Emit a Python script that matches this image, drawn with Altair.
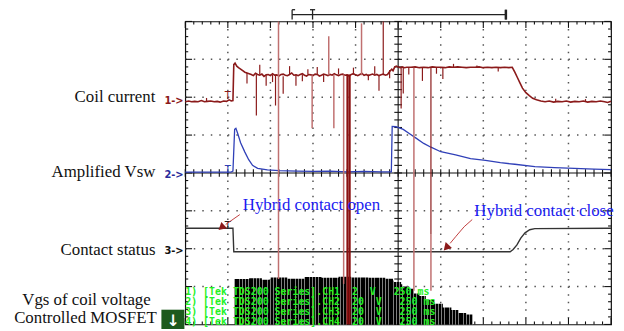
import altair as alt
import numpy as np
import pandas as pd

# ---------------- data (screen divisions: x 0..10, y -4..4) ----------------
ch1_x = [0.00, 0.08, 0.15, 0.22, 0.30, 0.38, 0.45, 0.52, 0.60, 0.68, 0.75, 0.82, 0.90, 0.97, 1.03, 1.08, 1.12,
         1.14, 1.17, 1.21, 1.25, 1.30, 1.35, 1.40, 1.45,
         1.50, 1.55, 1.60, 1.65, 1.70, 1.75, 1.80, 1.85, 1.90, 1.95, 2.00, 2.05, 2.10, 2.15, 2.20, 2.25,
         2.30, 2.35, 2.40, 2.45, 2.50, 2.55, 2.60, 2.65, 2.70, 2.75, 2.80, 2.85, 2.90, 2.95, 3.00, 3.05,
         3.10, 3.15, 3.20, 3.25, 3.30, 3.35, 3.40, 3.45, 3.50, 3.55, 3.60, 3.65, 3.70, 3.75, 3.80, 3.85,
         3.90, 3.95, 4.00, 4.05, 4.10, 4.15, 4.20, 4.25, 4.30, 4.35, 4.40, 4.45, 4.50, 4.55, 4.60, 4.65,
         4.70, 4.75, 4.80, 4.85, 4.88, 4.92, 4.96,
         5.00, 5.05, 5.10, 5.15, 5.20, 5.30, 5.40, 5.50, 5.60, 5.70, 5.80, 5.90, 6.00, 6.10, 6.20, 6.30, 6.40,
         6.50, 6.60, 6.70, 6.80, 6.90, 7.00, 7.10, 7.20, 7.30, 7.40, 7.50, 7.60, 7.68, 7.74, 7.80, 7.86, 7.92,
         8.00, 8.08, 8.16, 8.25, 8.35, 8.45, 8.55, 8.65, 8.75, 8.85, 8.95, 9.05, 9.15, 9.25, 9.35, 9.45, 9.55,
         9.65, 9.75, 9.85, 9.92, 10.0]
ch1_y = [1.88, 1.90, 1.88, 1.89, 1.88, 1.91, 1.88, 1.89, 1.90, 1.88, 1.89, 1.87, 1.90, 1.89, 1.93, 1.90, 1.91,
         2.86, 2.90, 2.82, 2.78, 2.74, 2.70, 2.66, 2.64,
         2.62, 2.60, 2.57, 2.63, 2.60, 2.58, 2.61, 2.55, 2.59, 2.60, 2.57, 2.62, 2.58, 2.59, 2.56, 2.60,
         2.61, 2.58, 2.57, 2.60, 2.64, 2.58, 2.59, 2.57, 2.60, 2.62, 2.58, 2.56, 2.60, 2.59, 2.57, 2.61,
         2.60, 2.56, 2.58, 2.61, 2.59, 2.57, 2.60, 2.58, 2.62, 2.59, 2.57, 2.60, 2.61, 2.58, 2.59, 2.56,
         2.60, 2.62, 2.59, 2.57, 2.60, 2.63, 2.58, 2.60, 2.57, 2.59, 2.61, 2.58, 2.60, 2.57, 2.59, 2.61,
         2.58, 2.60, 2.68, 2.74, 2.70, 2.80, 2.82,
         2.80, 2.78, 2.80, 2.78, 2.79, 2.79, 2.80, 2.78, 2.79, 2.78, 2.80, 2.79, 2.79, 2.78, 2.80, 2.79, 2.80,
         2.79, 2.78, 2.79, 2.79, 2.80, 2.78, 2.79, 2.78, 2.79, 2.78, 2.79, 2.78, 2.79, 2.66, 2.52, 2.38, 2.24,
         2.12, 2.04, 1.97, 1.93, 1.90, 1.88, 1.90, 1.87, 1.89, 1.88, 1.90, 1.87, 1.89, 1.88, 1.90, 1.87, 1.89,
         1.88, 1.90, 1.88, 1.86, 1.89]

spike_x = [1.67, 1.90, 2.12, 2.19, 2.30, 2.60, 2.98, 3.37, 3.49, 3.72, 3.81, 3.86, 4.14, 4.55, 4.65,
           5.07, 5.12, 5.37, 5.57, 5.77, 5.77, 6.05,
           0.50, 1.45, 1.75, 2.05, 2.45, 2.75, 2.88, 3.10, 3.25, 3.60, 3.95, 4.30, 4.45, 4.80,
           5.25, 5.90, 6.30, 6.85, 7.35, 8.70, 9.40]
spike_top = [2.60, 2.58, 2.60, 4.00, 2.55, 2.60, 2.58, 3.61, 2.60, 2.60, 2.60, 2.60, 3.95, 2.57, 4.00,
             2.78, 2.78, 2.78, 2.78, 2.78, -1.62, 2.78,
             1.98, 2.64, 2.86, 2.60, 2.82, 2.60, 2.74, 2.80, 2.60, 2.76, 2.78, 2.60, 2.82, 2.72,
             2.79, 2.79, 2.88, 2.84, 2.79, 1.96, 1.95]
spike_bottom = [1.52, 2.30, 1.78, -2.80, 2.09, 2.30, 1.18, 2.58, 1.18, -2.93, -4.00, -4.00, 2.58, 2.17, 2.58,
                1.70, 2.10, -3.11, 2.43, -1.62, -3.11, 2.48,
                1.88, 2.36, 2.60, 2.40, 2.60, 2.42, 2.60, 2.60, 2.40, 2.60, 2.60, 2.45, 2.60, 2.50,
                2.60, 2.62, 2.79, 2.79, 2.68, 1.88, 1.88]
spike_kind = ["dark", "dark", "dark", "light", "dark", "dark", "light", "light", "light", "light", "thick",
              "thick", "light", "dark", "dark", "dark", "dark", "light", "dark", "dark", "light", "dark",
              "dark", "dark", "dark", "dark", "dark", "dark", "dark", "dark", "dark", "dark", "dark", "dark",
              "dark", "dark", "dark", "dark", "dark", "dark", "dark", "dark", "dark"]

ch2_x = [0.00, 0.50, 1.00, 1.07, 1.12, 1.16, 1.19, 1.23, 1.30, 1.40, 1.49, 1.58, 1.70, 1.93, 2.20, 2.63,
         3.00, 3.40, 3.80, 4.20, 4.60, 4.84, 4.86, 4.95, 5.12, 5.26, 5.42, 5.60, 5.77, 6.00, 6.35, 6.70,
         7.05, 7.40, 7.74, 8.21, 8.67, 9.14, 9.60, 10.0]
ch2_y = [0.02, 0.02, 0.02, 0.02, 0.05, 1.15, 1.18, 1.05, 0.80, 0.55, 0.35, 0.20, 0.12, 0.08, 0.06, 0.05,
         0.04, 0.05, 0.03, 0.04, 0.03, 0.03, 1.23, 1.22, 1.15, 1.04, 0.92, 0.78, 0.68, 0.56, 0.48, 0.38,
         0.33, 0.27, 0.23, 0.17, 0.14, 0.12, 0.10, 0.09]

ch3_x = [0.00, 1.12, 1.14, 4.00, 7.63, 7.70, 7.79, 7.88, 7.98, 8.09, 8.21, 10.0]
ch3_y = [-1.46, -1.46, -2.08, -2.08, -2.08, -2.02, -1.90, -1.72, -1.58, -1.50, -1.47, -1.46]

ch4_x = [1.16, 1.50, 1.80, 2.00, 2.40, 2.80, 3.20, 3.60, 3.90, 4.30, 4.70, 4.88, 4.90, 5.07, 5.10, 5.26,
         5.37, 5.50, 5.65, 5.85, 6.05, 6.25, 6.42, 6.60, 6.75]
ch4_top = [-2.80, -2.78, -2.82, -2.76, -2.79, -2.75, -2.77, -2.74, -2.76, -2.77, -2.79, -2.84, -2.88, -2.94,
           -3.00, -3.06, -3.18, -3.25, -3.35, -3.45, -3.55, -3.62, -3.70, -3.74, -3.78]

scope_lines = ["1) [Tek TDS200 Series].CH1  2  V   250 ms",
               "2) [Tek TDS200 Series].CH2  20  V   250 ms",
               "3) [Tek TDS200 Series].CH3  20  V   250 ms",
               "4) [Tek TDS200 Series].CH4  20  V   250 ms"]

side_labels = ["Coil current", "Amplified Vsw", "Contact status", "Vgs of coil voltage", "Controlled MOSFET"]
channel_marks = ["1->", "2->", "3->"]
notes = ["Hybrid contact open", "Hybrid contact close"]

# ---------------- helpers ----------------
XS = alt.Scale(domain=[0, 10], nice=False, zero=False)
YS = alt.Scale(domain=[-4, 4], nice=False, zero=False)


def X(f="x"):
    return alt.X(f"{f}:Q", scale=XS, axis=None)


def Y(f="y"):
    return alt.Y(f"{f}:Q", scale=YS, axis=None)


NB = "\u00a0"

# graticule (style)
vx = [v for v in range(1, 10) if v != 5]
hy = [v for v in range(-3, 4) if v != 0]
grid_v = pd.DataFrame({"x": vx, "y": [4] * len(vx), "y2": [-4] * len(vx)})
grid_h = pd.DataFrame({"y": hy, "x": [0] * len(hy), "x2": [10] * len(hy)})
center = pd.DataFrame({"x": [5, 0], "x2": [5, 10], "y": [4, 0], "y2": [-4, 0]})

tk = []
for v in np.round(np.arange(0, 10.001, 0.2), 3):
    major = abs(v - round(v)) < 1e-6
    L = 0.17 if major else 0.08
    tk += [(v, v, 4, 4 - L), (v, v, -4, -4 + L), (v, v, -0.1, 0.1)]
for v in np.round(np.arange(-4, 4.001, 0.2), 3):
    major = abs(v - round(v)) < 1e-6
    L = 0.16 if major else 0.07
    tk += [(0, L, v, v), (10, 10 - L, v, v), (4.91, 5.09, v, v)]
ticks = pd.DataFrame(tk, columns=["x", "x2", "y", "y2"])

grid_layer = [
    alt.Chart(grid_v).mark_rule(color="#555", strokeWidth=1.5, strokeDash=[1.5, 6.15]).encode(
        x=X(), y=Y(), y2="y2:Q"),
    alt.Chart(grid_h).mark_rule(color="#555", strokeWidth=1.5, strokeDash=[1.5, 7.1]).encode(
        x=X(), x2="x2:Q", y=Y()),
    alt.Chart(center).mark_rule(color="#111", strokeWidth=1.1).encode(x=X(), x2="x2:Q", y=Y(), y2="y2:Q"),
    alt.Chart(ticks).mark_rule(color="#111", strokeWidth=1.1).encode(x=X(), x2="x2:Q", y=Y(), y2="y2:Q"),
]

# ch4 PWM area with striped fill
stops = []
N = 85
for i in range(N):
    a, b, c = i / N, (i + 0.68) / N, (i + 1) / N
    stops += [{"offset": a, "color": "#000"}, {"offset": b, "color": "#000"},
              {"offset": b, "color": "#7f7f7f"}, {"offset": c, "color": "#7f7f7f"}]
stripes = {"gradient": "linear", "x1": 0, "x2": 1, "y1": 0, "y2": 0, "stops": stops}
ch4 = pd.DataFrame({"x": ch4_x, "y": ch4_top, "y2": [-4] * len(ch4_x)})
ch4_layer = alt.Chart(ch4).mark_area(color=stripes, interpolate="step-after").encode(
    x=X(), y=Y(), y2="y2:Q")


def trace(xs, ys, color, w):
    df = pd.DataFrame({"x": xs, "y": ys, "i": range(len(xs))})
    return alt.Chart(df).mark_line(color=color, strokeWidth=w).encode(
        x=X(), y=Y(), order=alt.Order("i:Q"))


ch3_layer = trace(ch3_x, ch3_y, "#333333", 1.4)
ch2_layer = trace(ch2_x, ch2_y, "#3040b8", 1.3)
ch1_layer = trace(ch1_x, ch1_y, "#8b1a1a", 1.6)

spikes = pd.DataFrame({"x": spike_x, "y": spike_top, "y2": spike_bottom, "k": spike_kind})
spike_layers = [
    alt.Chart(spikes[spikes.k == "light"]).mark_rule(color="#c07070", strokeWidth=1.5).encode(
        x=X(), y=Y(), y2="y2:Q"),
    alt.Chart(spikes[spikes.k == "dark"]).mark_rule(color="#8b1a1a", strokeWidth=1.2).encode(
        x=X(), y=Y(), y2="y2:Q"),
    alt.Chart(spikes[spikes.k == "thick"]).mark_rule(color="#8b1010", strokeWidth=2.2).encode(
        x=X(), y=Y(), y2="y2:Q"),
]

# green scope legend text
green = pd.DataFrame({"x": [0.0] * 4, "y": [-3.15, -3.41, -3.67, -3.93],
                      "t": [s.replace("  ", NB + NB) for s in scope_lines]})
green_layer = alt.Chart(green).mark_text(
    align="left", baseline="middle", font="DejaVu Sans Mono", fontWeight="bold", fontSize=10,
    color="#22f022").encode(x=X(), y=Y(), text="t:N")

# top bracket & trigger markers (style)
br = pd.DataFrame({"x": [2.51, 2.51, 2.51, 7.53, 2.99, 2.93],
                   "x2": [7.53, 2.51, 2.58, 7.53, 2.99, 3.05],
                   "y": [4.18, 4.05, 4.31, 4.05, 4.05, 4.31],
                   "y2": [4.18, 4.31, 4.31, 4.31, 4.31, 4.31]})
br_layer = alt.Chart(br).mark_rule(color="#222", strokeWidth=1.3).encode(
    x=X(), x2="x2:Q", y=Y(), y2="y2:Q")
br_end = alt.Chart(pd.DataFrame({"x": [7.53], "y": [4.05], "y2": [4.31]})).mark_rule(
    color="#222", strokeWidth=2.5).encode(x=X(), y=Y(), y2="y2:Q")

trig = pd.DataFrame({"x": [1.0, 1.0, 1.0], "y": [2.02, 0.07, -1.40], "c": ["#8b1a1a", "#3040b8", "#222"]})
trig_layer = alt.Chart(trig).mark_text(text="T", fontSize=10, font="DejaVu Sans", baseline="middle").encode(
    x=X(), y=Y(), color=alt.Color("c:N", scale=None))

# left labels
lab = pd.DataFrame({"t": side_labels, "x": [-0.70, -0.70, -0.70, -0.81, -0.67],
                    "y": [2.01, 0.03, -2.04, -3.35, -3.84]})
lab_layer = alt.Chart(lab).mark_text(align="right", baseline="middle", font="Liberation Serif",
                                     fontSize=17, color="#111").encode(x=X(), y=Y(), text="t:N")

cm = pd.DataFrame({"t": channel_marks, "x": [-0.49] * 3, "y": [1.89, -0.06, -2.07],
                   "c": ["#8b1a1a", "#2a2a9a", "#111"]})
cm_layer = alt.Chart(cm).mark_text(align="left", baseline="middle", font="DejaVu Sans", fontWeight="bold",
                                   fontSize=10).encode(x=X(), y=Y(), text="t:N",
                                                       color=alt.Color("c:N", scale=None))

# green button
box = pd.DataFrame({"x": [-0.56], "x2": [-0.02], "y": [-3.61], "y2": [-4.2]})
box_layer = alt.Chart(box).mark_rect(color="#1d5a1d").encode(x=X(), x2="x2:Q", y=Y(), y2="y2:Q")
arrow_glyph = alt.Chart(pd.DataFrame({"x": [-0.29], "y": [-3.9]})).mark_text(
    text="\u2193", color="white", fontSize=16, fontWeight="bold", font="DejaVu Sans",
    baseline="middle").encode(x=X(), y=Y())

# blue notes
nt = pd.DataFrame({"t": notes, "x": [1.35, 6.79], "y": [-0.86, -1.01]})
nt_layer = alt.Chart(nt).mark_text(align="left", baseline="middle", font="Liberation Serif",
                                   fontSize=17, color="#1a1af0").encode(x=X(), y=Y(), text="t:N")

# arrows
a1 = pd.DataFrame({"x": [1.28, 0.95], "y": [-1.10, -1.36], "i": [0, 1]})
a2 = pd.DataFrame({"x": [6.74, 6.55, 6.36, 6.22], "y": [-1.23, -1.42, -1.67, -1.86], "i": [0, 1, 2, 3]})
arrow_lines = [
    alt.Chart(a1).mark_line(color="#c04040", strokeWidth=1).encode(x=X(), y=Y(), order="i:Q"),
    alt.Chart(a2).mark_line(color="#c04040", strokeWidth=1).encode(x=X(), y=Y(), order="i:Q"),
]
heads = [
    alt.Chart(pd.DataFrame({"x": [0.87], "y": [-1.42]})).mark_point(
        shape="triangle", angle=229, filled=True, size=75, color="#8b1a1a", opacity=1).encode(x=X(), y=Y()),
    alt.Chart(pd.DataFrame({"x": [6.15], "y": [-1.95]})).mark_point(
        shape="triangle", angle=223, filled=True, size=75, color="#8b1a1a", opacity=1).encode(x=X(), y=Y()),
]

chart = alt.layer(
    *grid_layer, ch4_layer, ch3_layer, ch2_layer, ch1_layer, green_layer, *spike_layers,
    br_layer, br_end, trig_layer, lab_layer, cm_layer, box_layer, arrow_glyph, nt_layer,
    *arrow_lines, *heads
).properties(
    width=430, height=306,
    padding={"left": 179, "top": 12, "right": 5, "bottom": 3},
    autosize=alt.AutoSizeParams(type="none"),
    background="white",
).configure_view(stroke="#111", strokeWidth=1.2)

chart.save("out.html", embed_options={"renderer": "svg", "actions": False})
